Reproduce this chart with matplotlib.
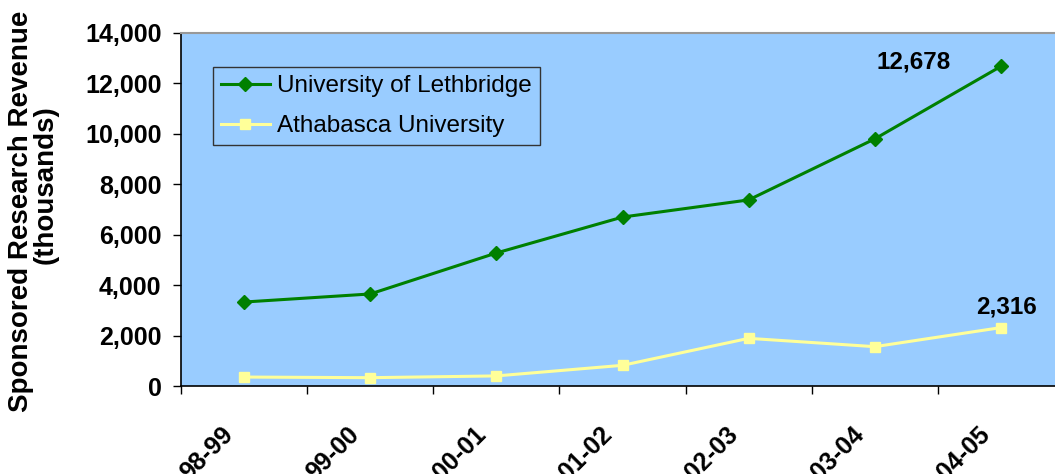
import matplotlib.pyplot as plt
from matplotlib.ticker import FuncFormatter

plt.rcParams['font.family'] = ['Liberation Sans', 'DejaVu Sans']

# Data (thousands)
years = ['98-99', '99-00', '00-01', '01-02', '02-03', '03-04', '04-05']
lethbridge = [3330, 3650, 5275, 6700, 7380, 9800, 12678]
athabasca = [355, 330, 400, 820, 1890, 1560, 2316]

fig = plt.figure(figsize=(10.55, 4.74), dpi=100)
# plot area runs past the right edge like the original
ax = fig.add_axes([181/1055, (474-386)/474, 883/1055, 353/474])
ax.set_facecolor('#99CCFF')

x = list(range(len(years)))
ax.plot(x, lethbridge, color='#008000', lw=2.2, marker='D', ms=7.5,
        label='University of Lethbridge')
ax.plot(x, athabasca, color='#FFFF99', lw=2.2, marker='s', ms=7.5,
        label='Athabasca University')

ax.set_xlim(-0.5, len(years) - 0.5)
ax.set_ylim(0, 14000)
ax.set_yticks(range(0, 14001, 2000))
ax.yaxis.set_major_formatter(FuncFormatter(lambda v, p: f'{int(v):,}'))

# tick marks at category boundaries, labels drawn by hand below
ax.set_xticks([i - 0.5 for i in range(len(years) + 1)])
ax.set_xticklabels([])
ax.tick_params(axis='x', length=6, width=1, direction='out')
for i, yr in enumerate(years):
    ax.annotate(yr, (i, 0), xycoords=('data', 'axes fraction'),
                xytext=(-23, -36), textcoords='offset pixels',
                rotation=45, rotation_mode='anchor', ha='right', va='top',
                fontsize=18, fontweight='bold', annotation_clip=False)

ax.tick_params(axis='y', length=6, width=1, direction='out', pad=8)
for lab in ax.get_yticklabels():
    lab.set_fontweight('bold')
    lab.set_fontsize(18)

ax.spines['right'].set_visible(False)
ax.spines['top'].set_color('#999999')
ax.spines['top'].set_linewidth(1.5)
ax.spines['left'].set_linewidth(1.2)
ax.spines['bottom'].set_linewidth(1.2)

# axis title, two lines placed like the original
fig.text(21/1055, 1 - 211/474, 'Sponsored Research Revenue', rotation=90,
         fontsize=20, fontweight='bold', ha='center', va='center')
fig.text(46/1055, 1 - 185/474, '(thousands)', rotation=90,
         fontsize=20, fontweight='bold', ha='center', va='center')

ax.annotate(f'{lethbridge[-1]:,}', (x[-1], lethbridge[-1]), xytext=(-87, 4),
            textcoords='offset pixels', fontsize=17.5, fontweight='bold',
            ha='center', va='center')
ax.annotate(f'{athabasca[-1]:,}', (x[-1], athabasca[-1]), xytext=(6, 21),
            textcoords='offset pixels', fontsize=17.5, fontweight='bold',
            ha='center', va='center')

leg = ax.legend(loc='upper left', bbox_to_anchor=(32/883, 1 - 34/353),
                borderaxespad=0, fontsize=17.5,
                frameon=True, fancybox=False, edgecolor='#333333',
                facecolor='#99CCFF', framealpha=1, handlelength=2.0,
                handletextpad=0.3, borderpad=0.33, labelspacing=0.75)
leg.get_frame().set_linewidth(1)

fig.savefig('out.png', dpi=100)
